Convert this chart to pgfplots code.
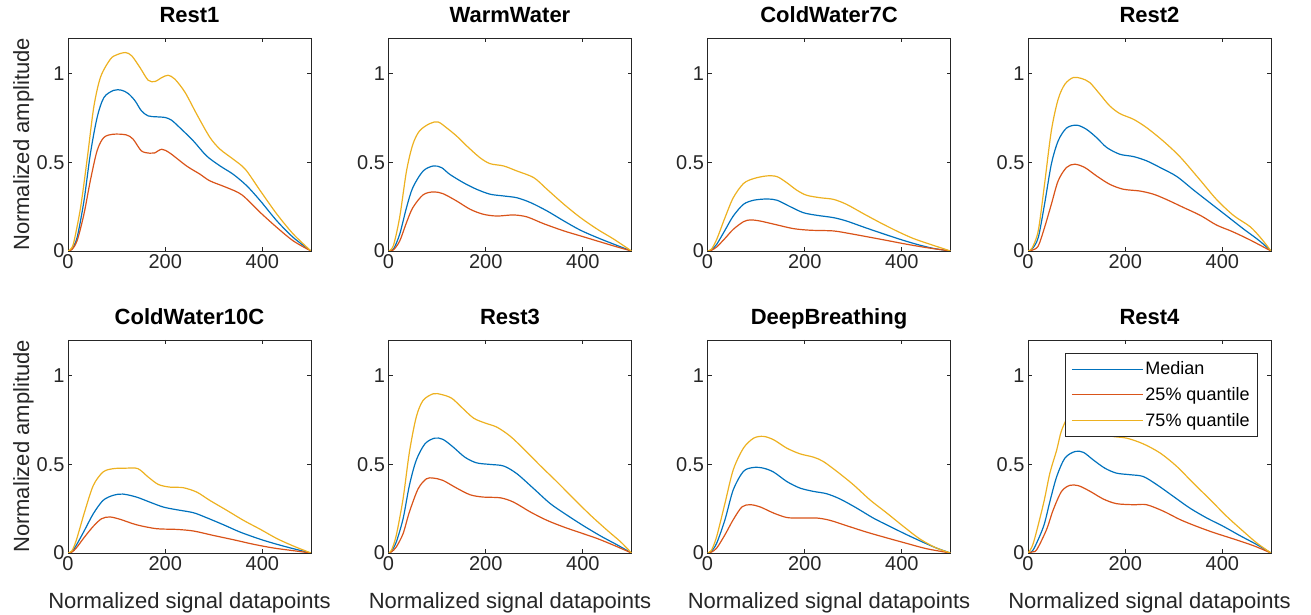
\documentclass[border=0pt]{standalone}
\usepackage{fontspec}
\setmainfont{Liberation Sans}
\usepackage{pgfplots}
\pgfplotsset{compat=1.18}
\definecolor{mblue}{rgb}{0,0.447,0.741}
\definecolor{mred}{rgb}{0.85,0.325,0.098}
\definecolor{myel}{rgb}{0.929,0.694,0.125}
\definecolor{maxis}{rgb}{0.15,0.15,0.15}
\pgfplotsset{
  panel/.style={
    scale only axis, width=243bp, height=213bp, anchor=south west,
    xmin=0, xmax=500, ymin=0, ymax=1.2,
    xtick={0,200,400}, ytick={0,0.5,1},
    tick align=inside, major tick length=4bp,
    axis line style={maxis, line width=0.9bp},
    every tick/.style={maxis, line width=0.9bp},
    tick label style={font=\fontsize{20bp}{24bp}\selectfont, text=maxis},
    /pgf/number format/assume math mode=true,
    title style={font=\bfseries\fontsize{22bp}{26bp}\selectfont, at={(axis description cs:0.5,1.047)}, anchor=base},
    xlabel style={font=\fontsize{22bp}{26bp}\selectfont, text=maxis, at={(axis description cs:0.5,-0.262)}, anchor=base},
    ylabel style={font=\fontsize{22bp}{26bp}\selectfont, text=maxis, at={(axis description cs:-0.16,0.5)}, anchor=base},
    every axis plot/.append style={line width=1.2bp, smooth, tension=0.5},
  },
}
\newcommand{\panel}[7]{%
\begin{axis}[panel, at={(#1bp,#2bp)}, title={#3}, #4]
\addplot[color=mblue, draw=mblue] coordinates {#5};
\addplot[color=mred, draw=mred] coordinates {#6};
\addplot[color=myel, draw=myel] coordinates {#7};
\end{axis}}
\begin{document}
\begin{tikzpicture}
\useasboundingbox (0,0) rectangle (1311bp,615bp);
% Rest1
\panel{68}{364}{Rest1}{ylabel={Normalized amplitude}}
{(0,0)(8,0.01)(19,0.079)(33,0.285)(46,0.547)(60,0.753)(74,0.865)(94,0.905)(110,0.906)(124,0.887)(138,0.846)(151,0.79)(165,0.761)(182,0.756)(200,0.752)(213,0.737)(230,0.695)(258,0.62)(285,0.536)(313,0.479)(340,0.432)(368,0.367)(396,0.282)(430,0.169)(464,0.075)(500,0)}
{(0,0)(8,0.008)(19,0.06)(33,0.21)(46,0.397)(60,0.566)(74,0.64)(94,0.658)(120,0.654)(134,0.63)(151,0.564)(168,0.551)(178,0.552)(193,0.573)(210,0.551)(244,0.479)(272,0.432)(292,0.395)(327,0.357)(358,0.316)(396,0.216)(430,0.132)(464,0.056)(500,0)}
{(0,0)(6,0.012)(12,0.05)(26,0.247)(40,0.53)(53,0.81)(67,0.98)(87,1.08)(100,1.105)(118,1.118)(131,1.10)(148,1.034)(165,0.962)(179,0.955)(193,0.977)(206,0.99)(220,0.968)(241,0.893)(265,0.77)(292,0.64)(313,0.573)(340,0.517)(365,0.46)(396,0.338)(430,0.207)(464,0.094)(500,0)}
% WarmWater
\panel{388.5}{364}{WarmWater}{}
{(0,0)(10,0.01)(23,0.094)(37,0.244)(50,0.357)(71,0.45)(92,0.479)(109,0.47)(126,0.432)(154,0.385)(181,0.348)(209,0.32)(237,0.31)(264,0.30)(292,0.273)(326,0.226)(361,0.169)(395,0.117)(430,0.075)(464,0.038)(500,0)}
{(0,0)(10,0.006)(23,0.056)(37,0.16)(50,0.244)(71,0.316)(92,0.333)(112,0.323)(140,0.282)(168,0.235)(195,0.207)(223,0.197)(257,0.203)(285,0.192)(319,0.154)(361,0.113)(395,0.085)(430,0.056)(464,0.028)(500,0)}
{(0,0)(10,0.03)(23,0.19)(37,0.45)(50,0.60)(64,0.677)(85,0.718)(102,0.727)(119,0.695)(140,0.648)(161,0.592)(188,0.526)(209,0.492)(237,0.479)(264,0.451)(299,0.413)(326,0.348)(361,0.263)(395,0.188)(430,0.122)(464,0.066)(500,0)}
% ColdWater7C
\panel{707.5}{364}{ColdWater7C}{}
{(0,0)(8,0.006)(19,0.038)(36,0.117)(53,0.197)(74,0.263)(95,0.286)(122,0.293)(143,0.286)(170,0.25)(197,0.216)(225,0.201)(259,0.188)(286,0.169)(321,0.135)(355,0.103)(396,0.066)(430,0.038)(464,0.015)(500,0)}
{(0,0)(8,0.004)(19,0.023)(36,0.071)(53,0.122)(74,0.165)(88,0.175)(108,0.169)(143,0.147)(177,0.126)(211,0.117)(259,0.113)(293,0.098)(327,0.081)(368,0.06)(410,0.038)(451,0.019)(500,0)}
{(0,0)(8,0.01)(19,0.066)(36,0.188)(53,0.30)(74,0.38)(95,0.408)(122,0.423)(143,0.419)(163,0.385)(184,0.342)(204,0.314)(232,0.30)(259,0.291)(286,0.263)(321,0.21)(355,0.16)(389,0.113)(423,0.071)(458,0.038)(500,0)}
% Rest2
\panel{1028}{364}{Rest2}{}
{(0,0)(8,0.01)(21,0.075)(34,0.263)(48,0.489)(62,0.62)(79,0.692)(100,0.709)(120,0.686)(141,0.639)(162,0.583)(189,0.545)(217,0.532)(244,0.508)(272,0.47)(306,0.42)(340,0.345)(375,0.27)(408,0.20)(443,0.125)(475,0.06)(500,0)}
{(0,0)(8,0.004)(21,0.028)(34,0.132)(48,0.263)(62,0.395)(79,0.47)(96,0.489)(117,0.47)(141,0.423)(168,0.376)(196,0.348)(230,0.338)(258,0.32)(285,0.29)(320,0.245)(355,0.20)(388,0.146)(420,0.11)(457,0.062)(500,0)}
{(0,0)(8,0.015)(21,0.113)(34,0.376)(48,0.677)(62,0.855)(76,0.94)(93,0.977)(110,0.972)(127,0.949)(148,0.883)(168,0.818)(189,0.774)(217,0.742)(244,0.695)(278,0.62)(313,0.53)(354,0.40)(388,0.29)(423,0.20)(457,0.137)(480,0.07)(500,0)}
% ColdWater10C
\panel{68}{62}{ColdWater10C}{ylabel={Normalized amplitude}, xlabel={Normalized signal datapoints}}
{(0,0)(8,0.008)(17,0.043)(34,0.128)(52,0.221)(72,0.296)(93,0.325)(113,0.332)(141,0.315)(168,0.287)(196,0.259)(223,0.244)(258,0.227)(285,0.199)(320,0.159)(354,0.118)(396,0.077)(430,0.049)(464,0.024)(500,0)}
{(0,0)(8,0.005)(17,0.028)(34,0.09)(52,0.15)(69,0.193)(86,0.203)(107,0.19)(141,0.159)(182,0.137)(223,0.133)(258,0.124)(299,0.099)(340,0.075)(382,0.049)(423,0.028)(464,0.013)(500,0)}
{(0,0)(8,0.012)(17,0.071)(34,0.23)(52,0.38)(72,0.456)(93,0.475)(120,0.478)(144,0.475)(165,0.428)(186,0.386)(210,0.371)(237,0.368)(265,0.343)(292,0.296)(327,0.24)(361,0.184)(396,0.133)(430,0.081)(464,0.039)(500,0)}
% Rest3
\panel{388.5}{62}{Rest3}{xlabel={Normalized signal datapoints}}
{(0,0)(6,0.01)(16,0.062)(30,0.193)(43,0.381)(57,0.522)(75,0.615)(95,0.647)(112,0.64)(133,0.597)(157,0.54)(181,0.508)(209,0.499)(237,0.49)(264,0.447)(299,0.362)(333,0.278)(368,0.212)(402,0.152)(437,0.095)(471,0.045)(500,0)}
{(0,0)(6,0.006)(16,0.034)(30,0.109)(43,0.231)(61,0.362)(78,0.418)(92,0.422)(112,0.409)(140,0.366)(168,0.328)(195,0.315)(230,0.311)(257,0.287)(292,0.231)(326,0.184)(361,0.146)(395,0.114)(430,0.081)(464,0.043)(500,0)}
{(0,0)(6,0.015)(16,0.1)(30,0.306)(43,0.568)(57,0.765)(71,0.859)(92,0.897)(109,0.893)(130,0.872)(150,0.822)(175,0.76)(199,0.732)(223,0.709)(250,0.659)(278,0.587)(312,0.493)(347,0.4)(381,0.306)(416,0.212)(450,0.128)(478,0.062)(500,0)}
% DeepBreathing
\panel{707.5}{62}{DeepBreathing}{xlabel={Normalized signal datapoints}}
{(0,0)(8,0.01)(19,0.056)(36,0.188)(53,0.356)(74,0.46)(95,0.482)(115,0.478)(136,0.456)(163,0.403)(190,0.366)(218,0.347)(245,0.334)(273,0.304)(307,0.253)(341,0.197)(375,0.15)(410,0.103)(444,0.06)(471,0.028)(500,0)}
{(0,0)(8,0.005)(19,0.028)(36,0.103)(53,0.188)(71,0.26)(88,0.272)(108,0.26)(136,0.225)(163,0.2)(190,0.197)(225,0.197)(252,0.184)(286,0.154)(327,0.118)(369,0.085)(410,0.054)(451,0.024)(500,0)}
{(0,0)(8,0.015)(19,0.094)(36,0.281)(53,0.469)(74,0.591)(95,0.647)(115,0.657)(136,0.638)(163,0.591)(190,0.559)(218,0.54)(238,0.516)(266,0.46)(300,0.385)(334,0.3)(369,0.225)(403,0.15)(437,0.079)(471,0.028)(500,0)}
% Rest4
\begin{axis}[panel, at={(1028bp,62bp)}, title={Rest4}, xlabel={Normalized signal datapoints},
  legend cell align=left,
  legend image code/.code={\draw[#1, line width=1.2bp] (0bp,0bp) -- (71bp,0bp);},
  legend style={at={(rel axis cs:1,1)}, anchor=north east, xshift=-13bp, yshift=-13bp,
    draw=maxis, line width=0.9bp, fill=white, text=black,
    font=\fontsize{18bp}{21bp}\selectfont, inner xsep=6bp, inner ysep=6.5bp, row sep=7bp,
    /tikz/every even column/.append style={column sep=6bp}}]
\addplot[color=mblue, draw=mblue] coordinates {(0,0)(11,0.019)(32,0.15)(45,0.29)(59,0.43)(76,0.535)(97,0.572)(114,0.567)(134,0.525)(158,0.478)(182,0.45)(210,0.441)(237,0.431)(265,0.385)(299,0.319)(333,0.253)(368,0.197)(402,0.15)(436,0.098)(471,0.047)(500,0)};
\addlegendentry{Median}
\addplot[color=mred, draw=mred] coordinates {(0,0)(8,0.006)(18,0.019)(38,0.131)(52,0.244)(69,0.347)(86,0.381)(104,0.379)(128,0.347)(155,0.304)(182,0.278)(217,0.272)(244,0.272)(279,0.235)(313,0.188)(347,0.15)(381,0.116)(423,0.079)(464,0.041)(500,0)};
\addlegendentry{25\% quantile}
\addplot[color=myel, draw=myel] coordinates {(0,0)(11,0.056)(32,0.28)(45,0.45)(59,0.58)(69,0.69)(85,0.78)(100,0.80)(120,0.77)(145,0.70)(169,0.66)(203,0.647)(237,0.615)(272,0.563)(306,0.488)(340,0.394)(375,0.3)(409,0.206)(443,0.122)(471,0.056)(500,0)};
\addlegendentry{75\% quantile}
\end{axis}
\end{tikzpicture}
\end{document}
